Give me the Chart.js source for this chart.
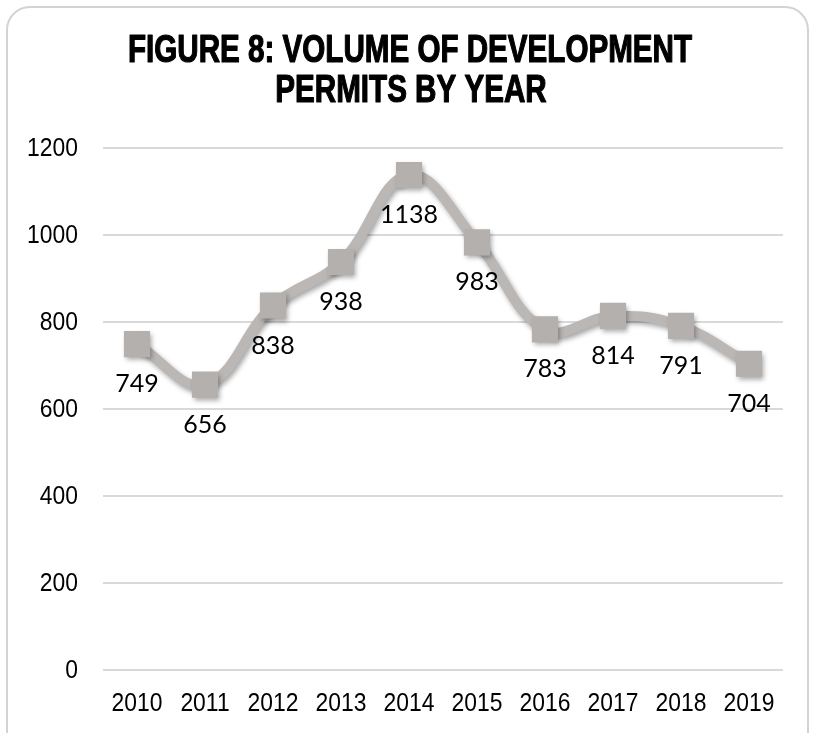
<!DOCTYPE html>
<html>
<head>
<meta charset="utf-8">
<script src="https://cdn.jsdelivr.net/npm/chart.js@4.4.1/dist/chart.umd.min.js"></script>
<style>
  html, body { margin: 0; padding: 0; background: #fff; }
  #wrap { position: relative; width: 814px; height: 733px; overflow: hidden; }
  #frame {
    position: absolute; left: 6px; top: 6px; width: 803px; height: 760px;
    border: 2px solid #d3d3d3; border-radius: 24px; box-sizing: border-box;
  }
  canvas { position: absolute; left: 0; top: 0; }
</style>
</head>
<body>
<div id="wrap">
  <div id="frame"></div>
  <canvas id="chart" width="814" height="733"></canvas>
</div>
<script>
// Data
const years = ["2010", "2011", "2012", "2013", "2014", "2015", "2016", "2017", "2018", "2019"];
const permits = [749, 656, 838, 938, 1138, 983, 783, 814, 791, 704];
const yTicks = [0, 200, 400, 600, 800, 1000, 1200];

const TITLE_LINES = ["FIGURE 8: VOLUME OF DEVELOPMENT", "PERMITS BY YEAR"];
const SANS = "'Liberation Sans', Arial, sans-serif";

// draw text squeezed horizontally (no narrow font installed)
function narrowText(ctx, text, x, y, squeeze, align, stroke) {
  ctx.save();
  ctx.translate(x, y);
  ctx.scale(squeeze, 1);
  ctx.textAlign = align;
  ctx.fillText(text, 0, 0);
  if (stroke) ctx.strokeText(text, 0, 0);
  ctx.restore();
}

// condensed bold title, two lines
const titlePlugin = {
  id: "condTitle",
  afterDraw(chart) {
    const ctx = chart.ctx;
    ctx.save();
    ctx.font = "bold 38px " + SANS;
    ctx.fillStyle = "#000";
    ctx.strokeStyle = "#000";
    ctx.lineWidth = 1.2;
    ctx.lineJoin = "round";
    ctx.textBaseline = "alphabetic";
    const squeeze = 564 / ctx.measureText(TITLE_LINES[0]).width;
    narrowText(ctx, TITLE_LINES[0], 410, 62, squeeze, "center", true);
    narrowText(ctx, TITLE_LINES[1], 411, 102, squeeze, "center", true);
    ctx.restore();
  }
};

// condensed tick labels, placed with the chart's own scales
const tickPlugin = {
  id: "condTicks",
  afterDraw(chart) {
    const ctx = chart.ctx;
    const xs = chart.scales.x;
    const ys = chart.scales.y;
    ctx.save();
    ctx.font = "26px " + SANS;
    ctx.fillStyle = "#000";
    ctx.textBaseline = "middle";
    yTicks.forEach((v) => {
      narrowText(ctx, String(v), 78, ys.getPixelForValue(v) + 1, 0.88, "right");
    });
    years.forEach((label, i) => {
      narrowText(ctx, label, xs.getPixelForValue(i), 704, 0.88, "center");
    });
    ctx.restore();
  }
};

// soft drop shadow under line and markers
const shadowPlugin = {
  id: "shadow",
  beforeDatasetsDraw(chart) {
    const ctx = chart.ctx;
    ctx.save();
    ctx.shadowColor = "rgba(0,0,0,0.35)";
    ctx.shadowBlur = 5;
    ctx.shadowOffsetX = 2;
    ctx.shadowOffsetY = 3;
  },
  afterDatasetsDraw(chart) {
    chart.ctx.restore();
  }
};

// value labels below each point
const valueLabels = {
  id: "valueLabels",
  afterDatasetsDraw(chart) {
    const ctx = chart.ctx;
    const meta = chart.getDatasetMeta(0);
    ctx.save();
    ctx.font = "25px Lato, 'DejaVu Sans', sans-serif";
    ctx.fillStyle = "#000";
    ctx.textAlign = "center";
    ctx.textBaseline = "middle";
    meta.data.forEach((pt, i) => {
      ctx.fillText(String(permits[i]), pt.x, pt.y + 40);
    });
    ctx.restore();
  }
};

const ctx = document.getElementById("chart").getContext("2d");
new Chart(ctx, {
  type: "line",
  data: {
    labels: years,
    datasets: [{
      data: permits,
      borderColor: "#bab7b5",
      borderWidth: 10,
      tension: 0.4,
      pointStyle: "rect",
      pointRadius: 18.5,
      pointHoverRadius: 18.5,
      pointBackgroundColor: "#b3b0ae",
      pointBorderWidth: 0,
      fill: false
    }]
  },
  options: {
    responsive: false,
    animation: false,
    layout: { padding: { left: 0, right: 31, top: 148, bottom: 24 } },
    plugins: {
      legend: { display: false },
      tooltip: { enabled: false },
      title: { display: false }
    },
    scales: {
      x: {
        offset: true,
        grid: { display: false },
        border: { display: false },
        ticks: { display: false },
        afterFit: (s) => { s.height = 39; }
      },
      y: {
        min: 0,
        max: 1200,
        afterBuildTicks: (s) => { s.ticks = yTicks.map((v) => ({ value: v })); },
        grid: { color: "#d9d9d9", lineWidth: 2, drawTicks: false },
        border: { display: false },
        ticks: { display: false },
        afterFit: (s) => { s.width = 103; }
      }
    }
  },
  plugins: [shadowPlugin, valueLabels, titlePlugin, tickPlugin]
});
</script>
</body>
</html>
